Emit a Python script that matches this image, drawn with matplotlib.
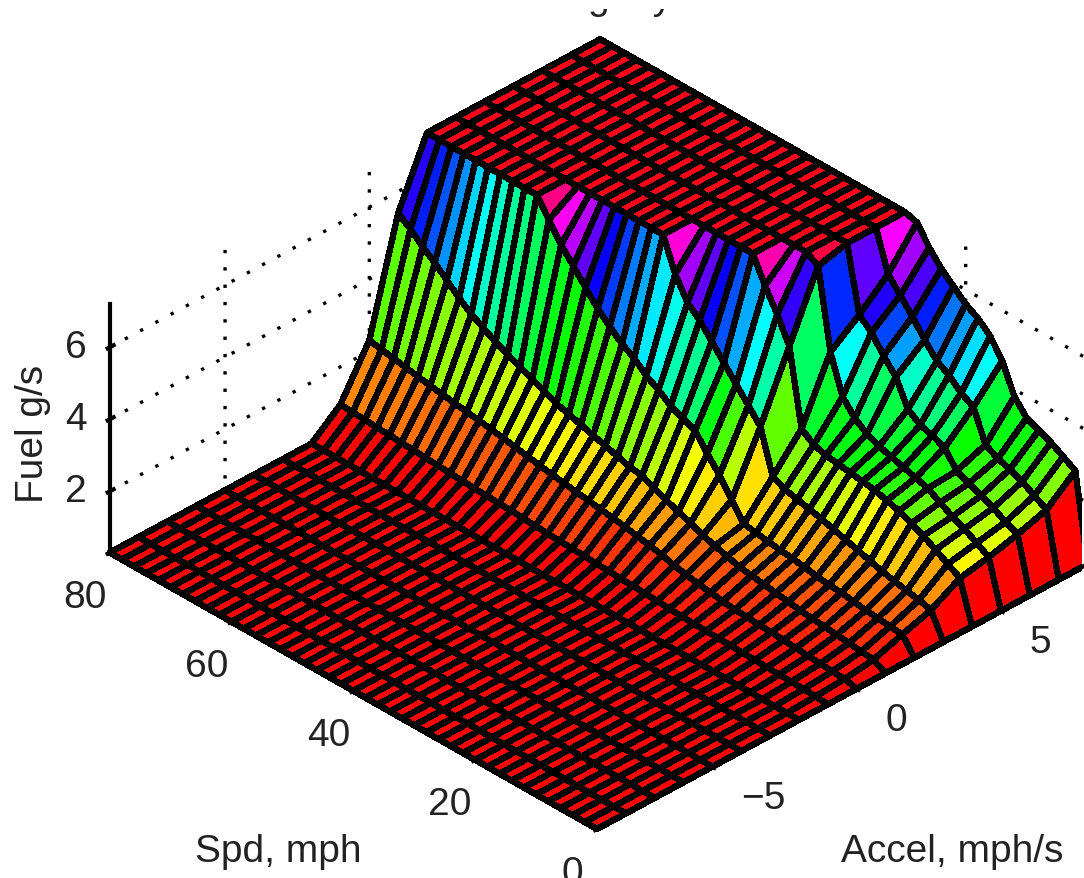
import numpy as np
import matplotlib
matplotlib.use("Agg")
import matplotlib.pyplot as plt
from matplotlib.patches import Rectangle
from mpl_toolkits.mplot3d import proj3d

plt.rcParams['font.family'] = ['Liberation Sans', 'DejaVu Sans']
plt.rcParams['font.size'] = 28
plt.rcParams['text.color'] = '#222222'

# grid of the fuel map, speed in mph and acceleration in mph/s
speed = [0, 2, 4, 6, 8, 10, 12, 14, 16, 18, 20, 22, 24, 26, 28, 30, 32, 34, 36, 38, 40,
         42, 44, 46, 48, 50, 52, 54, 56, 58, 60, 62, 64, 66, 68, 70, 72, 74, 76, 78, 80]
accel = [-9, -8, -7, -6, -5, -4, -3, -2, -1, 0, 1, 2, 3, 4, 5, 6, 7, 8]

# fuel g/s along each acceleration, from speed 0 up to speed 80
fuel_idle = [0.3] * 41
fuel_m1 = [.3, .33, .34, .35, .36, .37, .38, .39, .4, .41, .42, .43, .44, .46, .48, .5, .52, .53, .55, .56, .58,
           .6, .61, .63, .65, .67, .69, .7, .72, .73, .75, .77, .79, .81, .83, .85, .87, .89, .91, .93, .95]
fuel_0 = [.3, .38, .4, .42, .45, .47, .5, .52, .54, .56, .58, .62, .67, .72, .78, .85, .95, 1.02, 1.08, 1.15, 1.2,
          1.25, 1.3, 1.35, 1.4, 1.45, 1.51, 1.57, 1.63, 1.69, 1.75, 1.8, 1.85, 1.9, 1.95, 2.0, 2.06, 2.12, 2.18, 2.24, 2.3]
fuel_1 = [.3, .48, .52, .56, .6, .63, .66, .7, .75, .8, .85, .9, .95, 1.05, 1.15, 1.25, 1.4, 1.52, 1.65, 1.8, 1.95,
          2.0, 2.1, 2.2, 2.3, 2.4, 2.5, 2.6, 2.75, 2.9, 3.05, 3.2, 3.35, 3.55, 3.75, 4.0, 4.3, 4.6, 4.85, 5.15, 5.4]
fuel_2 = [.3, .75, .78, .82, .85, .9, .95, .98, 1.02, 1.08, 1.13, 1.17, 1.22, 1.27, 1.33, 1.8, 2.3, 2.7, 3.15, 3.3, 3.45,
          3.7, 3.9, 4.2, 4.4, 4.7, 5.0, 5.4, 5.8, 6.2, 6.7, 7.2, 7.2, 7.2, 7.2, 7.2, 7.2, 7.2, 7.2, 7.2, 7.2]
fuel_3 = [.3, 1.0, 1.08, 1.15, 1.22, 1.3, 1.4, 1.5, 1.6, 1.7, 1.8, 1.88, 1.96, 2.05, 2.2, 3.4, 3.8, 4.2, 4.6, 5.0, 5.4,
          5.7, 6.3, 7.2, 7.2, 7.2, 7.2, 7.2, 7.2, 7.2, 7.2, 7.2, 7.2, 7.2, 7.2, 7.2, 7.2, 7.2, 7.2, 7.2, 7.2]
fuel_4 = [.3, 1.45, 1.65, 1.85, 2.05, 2.2, 2.35, 2.45, 2.55, 2.6, 2.65, 2.7, 2.75, 2.85, 3.1, 5.2, 5.9, 6.5, 7.2, 7.2, 7.2,
          7.2, 7.2, 7.2, 7.2, 7.2, 7.2, 7.2, 7.2, 7.2, 7.2, 7.2, 7.2, 7.2, 7.2, 7.2, 7.2, 7.2, 7.2, 7.2, 7.2]
fuel_5 = [.3, 1.6, 1.8, 2.0, 2.15, 2.35, 2.55, 2.65, 2.75, 2.85, 2.95, 3.1, 3.35, 3.75, 4.8, 7.0, 7.2, 7.2, 7.2, 7.2, 7.2,
          7.2, 7.2, 7.2, 7.2, 7.2, 7.2, 7.2, 7.2, 7.2, 7.2, 7.2, 7.2, 7.2, 7.2, 7.2, 7.2, 7.2, 7.2, 7.2, 7.2]
fuel_6 = [.3, 1.8, 1.95, 2.15, 2.3, 2.45, 2.6, 3.05, 3.2, 3.3, 3.55, 4.25, 4.65, 5.1, 5.4, 7.2, 7.2, 7.2, 7.2, 7.2, 7.2,
          7.2, 7.2, 7.2, 7.2, 7.2, 7.2, 7.2, 7.2, 7.2, 7.2, 7.2, 7.2, 7.2, 7.2, 7.2, 7.2, 7.2, 7.2, 7.2, 7.2]
fuel_7 = [.3, 2.05, 2.25, 2.45, 2.6, 2.7, 2.9, 3.75, 3.95, 4.25, 4.45, 4.85, 5.3, 5.7, 6.1, 7.2, 7.2, 7.2, 7.2, 7.2, 7.2,
          7.2, 7.2, 7.2, 7.2, 7.2, 7.2, 7.2, 7.2, 7.2, 7.2, 7.2, 7.2, 7.2, 7.2, 7.2, 7.2, 7.2, 7.2, 7.2, 7.2]
fuel_8 = [.3, 2.7, 2.9, 3.1, 3.25, 3.4, 3.8, 4.6, 5.1, 5.4, 5.6, 5.9, 6.2, 6.6, 7.1, 7.2, 7.2, 7.2, 7.2, 7.2, 7.2,
          7.2, 7.2, 7.2, 7.2, 7.2, 7.2, 7.2, 7.2, 7.2, 7.2, 7.2, 7.2, 7.2, 7.2, 7.2, 7.2, 7.2, 7.2, 7.2, 7.2]

speed_ticks = [0, 20, 40, 60, 80]
accel_ticks = [-5, 0, 5]
fuel_ticks = [2, 4, 6]

FIG_W, FIG_H = 1084, 879
Z_MIN, Z_MAX = 0.3, 7.2


def to_pixels(ax, x, y, z):
    px, py, _ = proj3d.proj_transform(x, y, z, ax.get_proj())
    dx, dy = ax.transData.transform((px, py))
    return dx, FIG_H - dy


# puts the floor corners of the box where they sit in the picture
def fit_box(ax):
    size = 800.0
    for _ in range(3):
        ax.set_position([0.1, 0.1, size / FIG_W, size / FIG_H])
        ax.apply_aspect()
        x0, y0 = to_pixels(ax, -9, 0, Z_MIN)
        x1, y1 = to_pixels(ax, -9, 80, Z_MIN)
        size = size * np.hypot(487, 277) / np.hypot(x1 - x0, y1 - y0)
    ax.set_position([0.1, 0.1, size / FIG_W, size / FIG_H])
    ax.apply_aspect()
    x0, y0 = to_pixels(ax, -9, 0, Z_MIN)
    left = 0.1 + (597 - x0) / FIG_W
    bottom = 0.1 - (830 - y0) / FIG_H
    ax.set_position([left, bottom, size / FIG_W, size / FIG_H])


fuel = np.array([fuel_idle] * 8 + [fuel_m1, fuel_0, fuel_1, fuel_2, fuel_3, fuel_4,
                                   fuel_5, fuel_6, fuel_7, fuel_8]).T
A, S = np.meshgrid(accel, speed)

# each facet takes the colour of its first corner, the way surf does it
colores = plt.cm.hsv((fuel - Z_MIN) / (Z_MAX - Z_MIN))

plt.rcParams['grid.color'] = 'black'
plt.rcParams['grid.linewidth'] = 2.4
plt.rcParams['grid.linestyle'] = (0, (1, 4.2))

fig = plt.figure(figsize=(FIG_W / 100, FIG_H / 100), dpi=100)
ax = fig.add_axes([0, 0, 1, 1], projection='3d', proj_type='ortho')
ax.view_init(elev=33.6, azim=-134.3)
ax.set_box_aspect((684.6, 697, 298))
ax.set_xlim(-9, 8, view_margin=0)
ax.set_ylim(0, 80, view_margin=0)
ax.set_zlim(Z_MIN, Z_MAX, view_margin=0)

ax.plot_surface(A, S, fuel, facecolors=colores, rstride=1, cstride=1,
                edgecolor='black', linewidth=3.8, shade=False, antialiased=False)

ax.set_xticks(accel_ticks)
ax.set_yticks(speed_ticks)
ax.set_zticks(fuel_ticks)
ax.tick_params(axis='x', pad=14, labelcolor='#222222')
ax.tick_params(axis='y', pad=11, labelcolor='#222222')
ax.tick_params(axis='z', pad=9, labelcolor='#222222')

for label in ax.get_xticklabels() + ax.get_zticklabels():
    label.set_ha('left')
    label.set_va('center')

for axis in (ax.xaxis, ax.yaxis, ax.zaxis):
    axis.pane.set_visible(False)
    axis.line.set_color('black')
    axis.line.set_linewidth(3)
    axis._axinfo['tick']['linewidth'] = {True: 3, False: 3}
    axis._axinfo['tick']['color'] = 'black'
    axis._axinfo['tick']['inward_factor'] = 0.05
    axis._axinfo['tick']['outward_factor'] = 0.1

fit_box(ax)

fig.text(278 / FIG_W, 1 - 852 / FIG_H, 'Spd, mph', ha='center', va='center')
fig.text(952 / FIG_W, 1 - 852 / FIG_H, 'Accel, mph/s', ha='center', va='center')
fig.text(33 / FIG_W, 1 - 434 / FIG_H, 'Fuel g/s', ha='center', va='center', rotation=90)

# the title is cut by the top of the picture, only its descenders are left
fig.text(588 / FIG_W, 1 - 9 / FIG_H, 'g    y', ha='left', va='baseline', zorder=3)
fig.add_artist(Rectangle((0, 1 - 10 / FIG_H), 1, 10 / FIG_H, transform=fig.transFigure,
                         facecolor='white', edgecolor='none', zorder=4))

fig.savefig('out.png', dpi=100)
